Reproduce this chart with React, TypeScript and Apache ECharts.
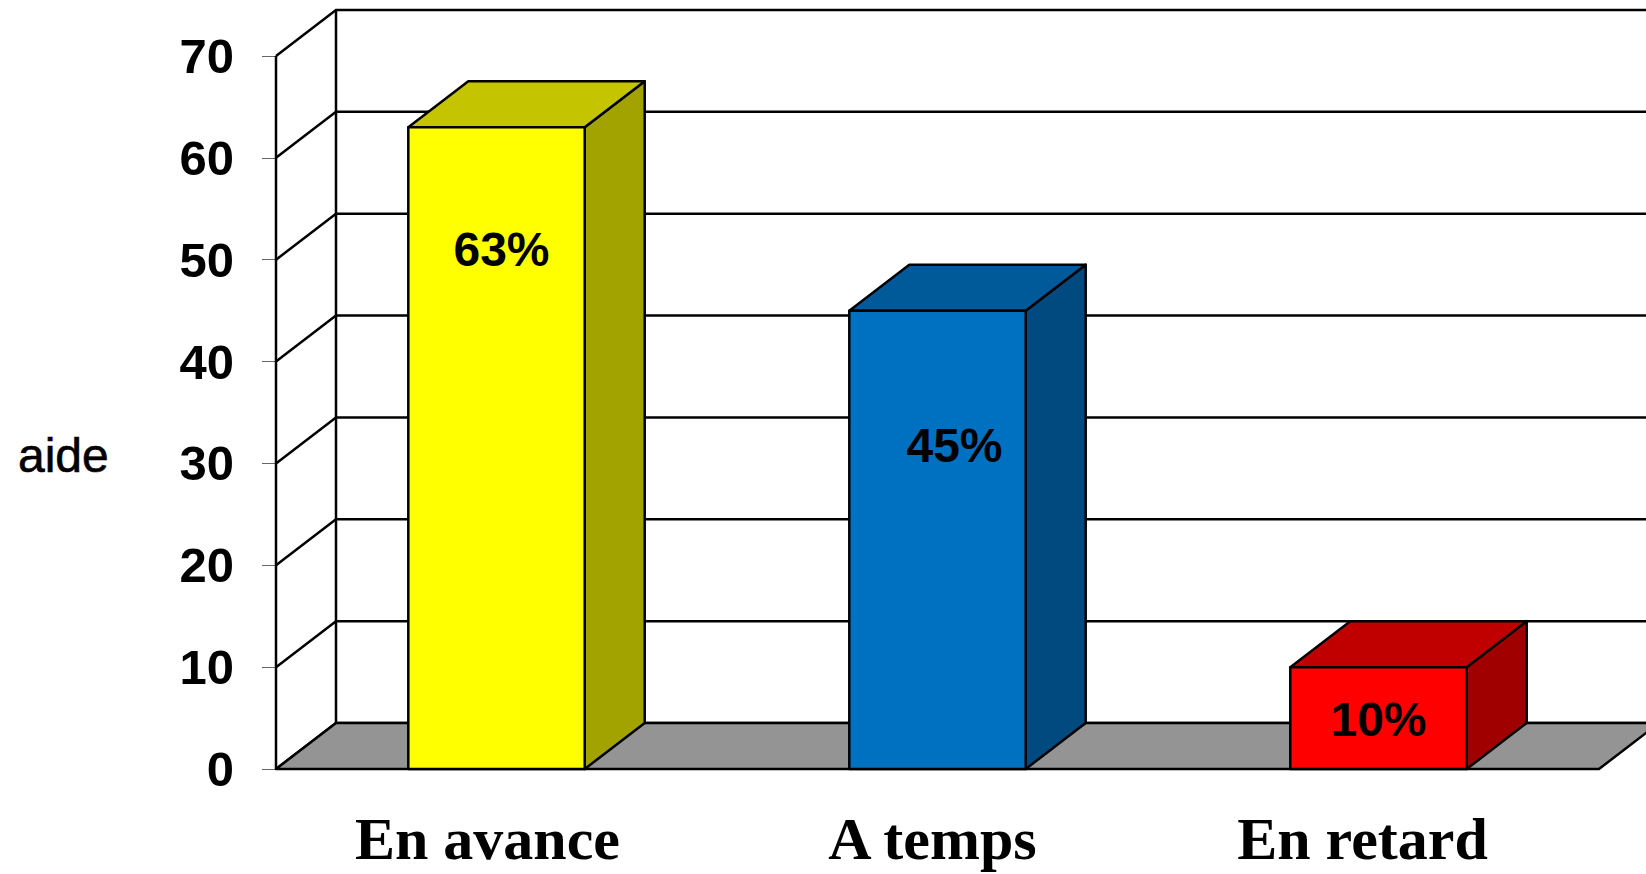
import React, { useEffect, useRef } from "react";
import * as echarts from "echarts";

const categories = ["En avance", "A temps", "En retard"];
const values = [63, 45, 10];
const valueLabels = ["63%", "45%", "10%"];
const yTicks = [0, 10, 20, 30, 40, 50, 60, 70];
const axisName = "aide";

// styling
const frontColors = ["#FFFF00", "#0070C0", "#FF0000"];
const topColors = ["#C4C400", "#005A9A", "#C00000"];
const sideColors = ["#A3A300", "#004A80", "#A00000"];
const labelXShift = [5, 17, 0];
const labelYValue = [51, 31.8, 4.9];
const categoryPad = [18, 10, 32];
const DX = 60;
const DY = 46;
const LINE = { stroke: "#000", lineWidth: 2.5 };
const SANS = "'Liberation Sans', Arial, sans-serif";

function poly(points: number[][], fill: string) {
  return { type: "polygon", shape: { points }, style: { fill, stroke: "#000", lineWidth: 2.5, lineJoin: "round" } };
}

function renderFloor(params: any, api: any) {
  const g = params.coordSys;
  const y0 = api.coord([0, 0])[1];
  const r = g.x + g.width;
  return {
    type: "group",
    children: [
      poly([[g.x, y0], [g.x + DX, y0 - DY], [r + DX, y0 - DY], [r, y0]], "#949494"),
    ],
  };
}

function renderWall(params: any, api: any) {
  const g = params.coordSys;
  const y = api.coord([0, api.value(1)])[1];
  const r = g.x + g.width;
  const points = [[g.x, y], [g.x + DX, y - DY], [r + DX, y - DY]];
  const children: any[] = [{ type: "polyline", shape: { points }, style: { ...LINE, fill: "none" } }];
  if (params.dataIndex === 0) {
    const top = g.y;
    children.push({ type: "line", shape: { x1: g.x + DX, y1: y - DY, x2: g.x + DX, y2: top - DY }, style: LINE });
    children.push({ type: "line", shape: { x1: g.x, y1: y, x2: g.x, y2: top }, style: LINE });
  }
  return { type: "group", children };
}

function renderBar(params: any, api: any) {
  const i = api.value(0);
  const [cx, yTop] = api.coord([i, api.value(1)]);
  const yBase = api.coord([i, 0])[1];
  const w = api.size([1, 0])[0] * 0.4;
  const l = cx - w / 2;
  const r = cx + w / 2;
  const labelY = api.coord([i, labelYValue[i]])[1];
  return {
    type: "group",
    children: [
      poly([[r, yTop], [r + DX, yTop - DY], [r + DX, yBase - DY], [r, yBase]], sideColors[i]),
      poly([[l, yTop], [l + DX, yTop - DY], [r + DX, yTop - DY], [r, yTop]], topColors[i]),
      poly([[l, yTop], [r, yTop], [r, yBase], [l, yBase]], frontColors[i]),
      {
        type: "text",
        style: {
          text: valueLabels[i],
          x: cx + labelXShift[i],
          y: labelY,
          align: "center",
          verticalAlign: "middle",
          fill: "#000",
          fontFamily: SANS,
          fontWeight: "bold",
          fontSize: 48,
        },
      },
    ],
  };
}

export default function App() {
  const ref = useRef<HTMLDivElement>(null);
  useEffect(() => {
    const chart = echarts.init(ref.current!, null, { renderer: "svg" });
    chart.setOption({
      animation: false,
      backgroundColor: "#fff",
      grid: { left: 276, top: 56, width: 1323, height: 713, containLabel: false },
      xAxis: {
        type: "category",
        data: categories.map((c, i) => ({
          value: c,
          textStyle: { padding: [0, categoryPad[i], 0, 0] },
        })),
        axisLine: { show: false },
        axisTick: { show: false },
        axisLabel: {
          margin: 40,
          color: "#000",
          fontFamily: "'Liberation Serif', serif",
          fontWeight: "bold",
          fontSize: 60,
        },
      },
      yAxis: {
        type: "value",
        min: 0,
        max: 70,
        interval: 10,
        splitLine: { show: false },
        axisLine: { show: false },
        axisTick: { show: true, length: 14, lineStyle: { color: "#666", width: 1 } },
        axisLabel: {
          margin: 42,
          color: "#000",
          fontFamily: SANS,
          fontWeight: "bold",
          fontSize: 49,
        },
      },
      graphic: [
        {
          type: "text",
          x: 18,
          y: 455,
          style: {
            text: axisName,
            fill: "#000",
            fontFamily: SANS,
            fontSize: 48,
            fontWeight: 500,
            stroke: "#000",
            lineWidth: 0.6,
            verticalAlign: "middle",
          },
        },
      ],
      series: [
        { type: "custom", renderItem: renderWall, data: yTicks.map((v) => [0, v]), encode: { x: 0, y: 1 }, z: 1, silent: true },
        { type: "custom", renderItem: renderFloor, data: [[0, 0]], encode: { x: 0, y: 1 }, z: 2, silent: true },
        { type: "custom", renderItem: renderBar, data: values.map((v, i) => [i, v]), encode: { x: 0, y: 1 }, z: 3, silent: true },
      ],
    });
    return () => chart.dispose();
  }, []);
  return <div ref={ref} style={{ position: "fixed", left: 0, top: 0, width: 1646, height: 874 }} />;
}
